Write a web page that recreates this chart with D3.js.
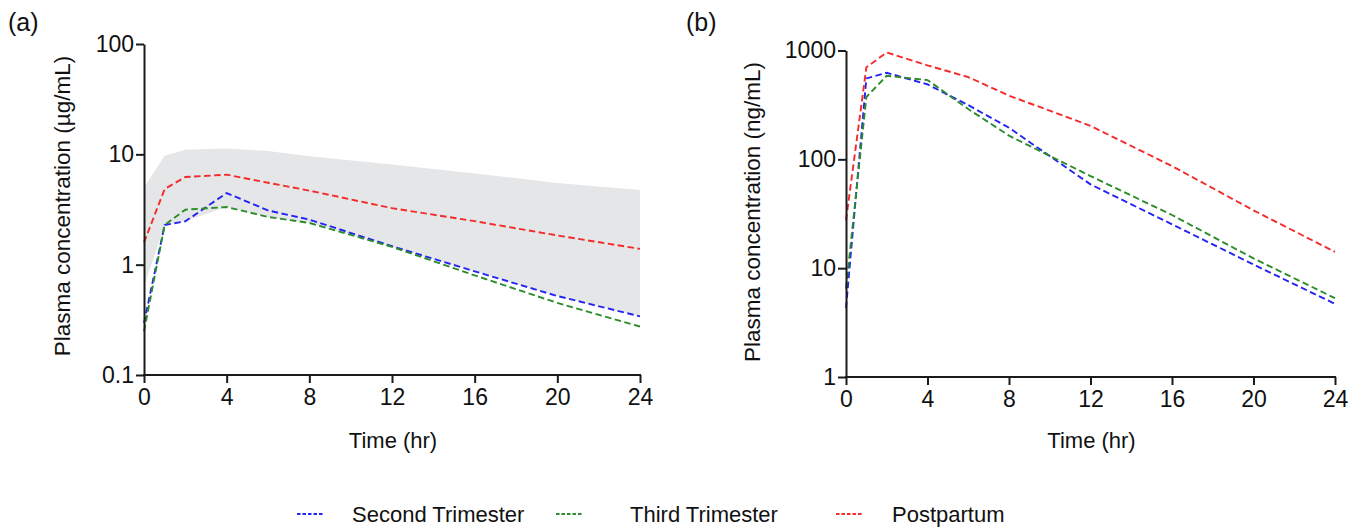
<!DOCTYPE html>
<html>
<head>
<meta charset="utf-8">
<script src="https://cdn.jsdelivr.net/npm/d3@7"></script>
<style>
  html, body { margin: 0; padding: 0; background: #fff; }
  svg { display: block; }
  text { font-family: "Liberation Sans", Arial, sans-serif; fill: #111; }
</style>
</head>
<body>
<svg id="chart" width="1365" height="529"></svg>
<script>
// ---- Data ----
const times = [0, 1, 2, 4, 6, 8, 12, 16, 20, 24];
const xTicks = [0, 4, 8, 12, 16, 20, 24];

// Panel (a) µg/mL
const secondA = [0.296, 2.29, 2.47, 4.46, 3.1, 2.56, 1.47, 0.87, 0.52, 0.34];
const thirdA  = [0.249, 2.29, 3.15, 3.33, 2.71, 2.39, 1.45, 0.80, 0.45, 0.275];
const postA   = [1.59, 4.85, 6.23, 6.54, 5.53, 4.69, 3.25, 2.48, 1.84, 1.39];
const bandUpperA = [5.0, 9.7, 11.0, 11.3, 10.7, 9.6, 8.1, 6.7, 5.5, 4.74];
const bandLowerA = [0.63, 2.29, 2.47, 3.33, 2.71, 2.39, 1.45, 0.87, 0.52, 0.34];
const yTicksA = [0.1, 1, 10, 100];
const yTickLabelsA = ["0.1", "1", "10", "100"];

// Panel (b) ng/mL
const secondB = [4.3, 554, 625, 488, 315, 195, 58.9, 25.3, 10.8, 4.7];
const thirdB  = [6.5, 374, 586, 535, 290, 165, 70.2, 30.8, 12.3, 5.3];
const postB   = [27.5, 700, 960, 730, 570, 385, 203, 86.7, 34.0, 14.1];
const yTicksB = [1, 10, 100, 1000];
const yTickLabelsB = ["1", "10", "100", "1000"];

const seriesNames = ["Second Trimester", "Third Trimester", "Postpartum"];
const seriesColors = ["#2323f5", "#2a8c2a", "#f52a2a"];

// ---- Drawing ----
const svg = d3.select("#chart");

function panel(opts) {
  const g = svg.append("g");
  const x = d3.scaleLinear().domain([0, 24]).range([opts.left, opts.right]);
  const y = d3.scaleLog().domain(opts.yDomain).range([opts.bottom, opts.top]);

  if (opts.bandUpper) {
    const area = d3.area()
      .x((d, i) => x(times[i]))
      .y0((d, i) => y(opts.bandLower[i]))
      .y1((d, i) => y(opts.bandUpper[i]));
    g.append("path").datum(times).attr("d", area).attr("fill", "#e5e6e7");
  }

  const line = d3.line().x(d => x(d[0])).y(d => y(d[1]));
  opts.series.forEach((vals, k) => {
    g.append("path")
      .datum(times.map((t, i) => [t, vals[i]]))
      .attr("d", line)
      .attr("fill", "none")
      .attr("stroke", seriesColors[k])
      .attr("stroke-width", 1.9)
      .attr("stroke-dasharray", "6.5,3.5");
  });

  const xAxis = d3.axisBottom(x).tickValues(xTicks).tickFormat(d3.format("d"))
    .tickSizeInner(8).tickSizeOuter(0).tickPadding(6);
  const gx = g.append("g").attr("transform", `translate(0,${opts.bottom})`).call(xAxis);
  const yAxis = d3.axisLeft(y).tickValues(opts.yTicks)
    .tickFormat((d, i) => opts.yTickLabels[i])
    .tickSizeInner(8).tickSizeOuter(0).tickPadding(2);
  const gy = g.append("g").attr("transform", `translate(${opts.left},0)`).call(yAxis);
  [gx, gy].forEach(a => {
    a.select(".domain").attr("stroke", "#1a1a1a").attr("stroke-width", 2);
    a.selectAll(".tick line").attr("stroke", "#1a1a1a").attr("stroke-width", 2);
    a.selectAll(".tick text").style("font-size", "23px").style("font-family", "'Liberation Sans', Arial, sans-serif").attr("fill", "#111");
  });
  gx.select(".domain").attr("d", `M${opts.left - 1},0H${opts.right + 1}`);

  g.append("text")
    .attr("x", (opts.left + opts.right) / 2 + 1)
    .attr("y", 448)
    .attr("text-anchor", "middle")
    .style("font-size", "22px")
    .text("Time (hr)");

  g.append("text")
    .attr("transform", `translate(${opts.yLabelX},${opts.yLabelY}) rotate(-90)`)
    .attr("text-anchor", "middle")
    .style("font-size", "22.5px")
    .text(opts.yLabel);

  g.append("text")
    .attr("x", opts.tagX)
    .attr("y", 31)
    .style("font-size", "25px")
    .text(opts.tag);
}

panel({
  left: 144, right: 640, top: 44, bottom: 375,
  yDomain: [0.1, 100], yTicks: yTicksA, yTickLabels: yTickLabelsA,
  series: [secondA, thirdA, postA],
  bandUpper: bandUpperA, bandLower: bandLowerA,
  yLabel: "Plasma concentration (µg/mL)", yLabelX: 70, yLabelY: 206,
  tag: "(a)", tagX: 8
});

panel({
  left: 846, right: 1335, top: 50.5, bottom: 377,
  yDomain: [1, 1000], yTicks: yTicksB, yTickLabels: yTickLabelsB,
  series: [secondB, thirdB, postB],
  yLabel: "Plasma concentration (ng/mL)", yLabelX: 760, yLabelY: 212,
  tag: "(b)", tagX: 686
});

// Legend
const legendX = [297, 556, 836];
const legendTextX = [352, 630, 892];
const lg = svg.append("g");
seriesNames.forEach((name, k) => {
  lg.append("line")
    .attr("x1", legendX[k]).attr("x2", legendX[k] + 26)
    .attr("y1", 514).attr("y2", 514)
    .attr("stroke", seriesColors[k]).attr("stroke-width", 1.8)
    .attr("stroke-dasharray", "3.5,2");
  lg.append("text")
    .attr("x", legendTextX[k]).attr("y", 522)
    .style("font-size", "22px")
    .text(name);
});
</script>
</body>
</html>
